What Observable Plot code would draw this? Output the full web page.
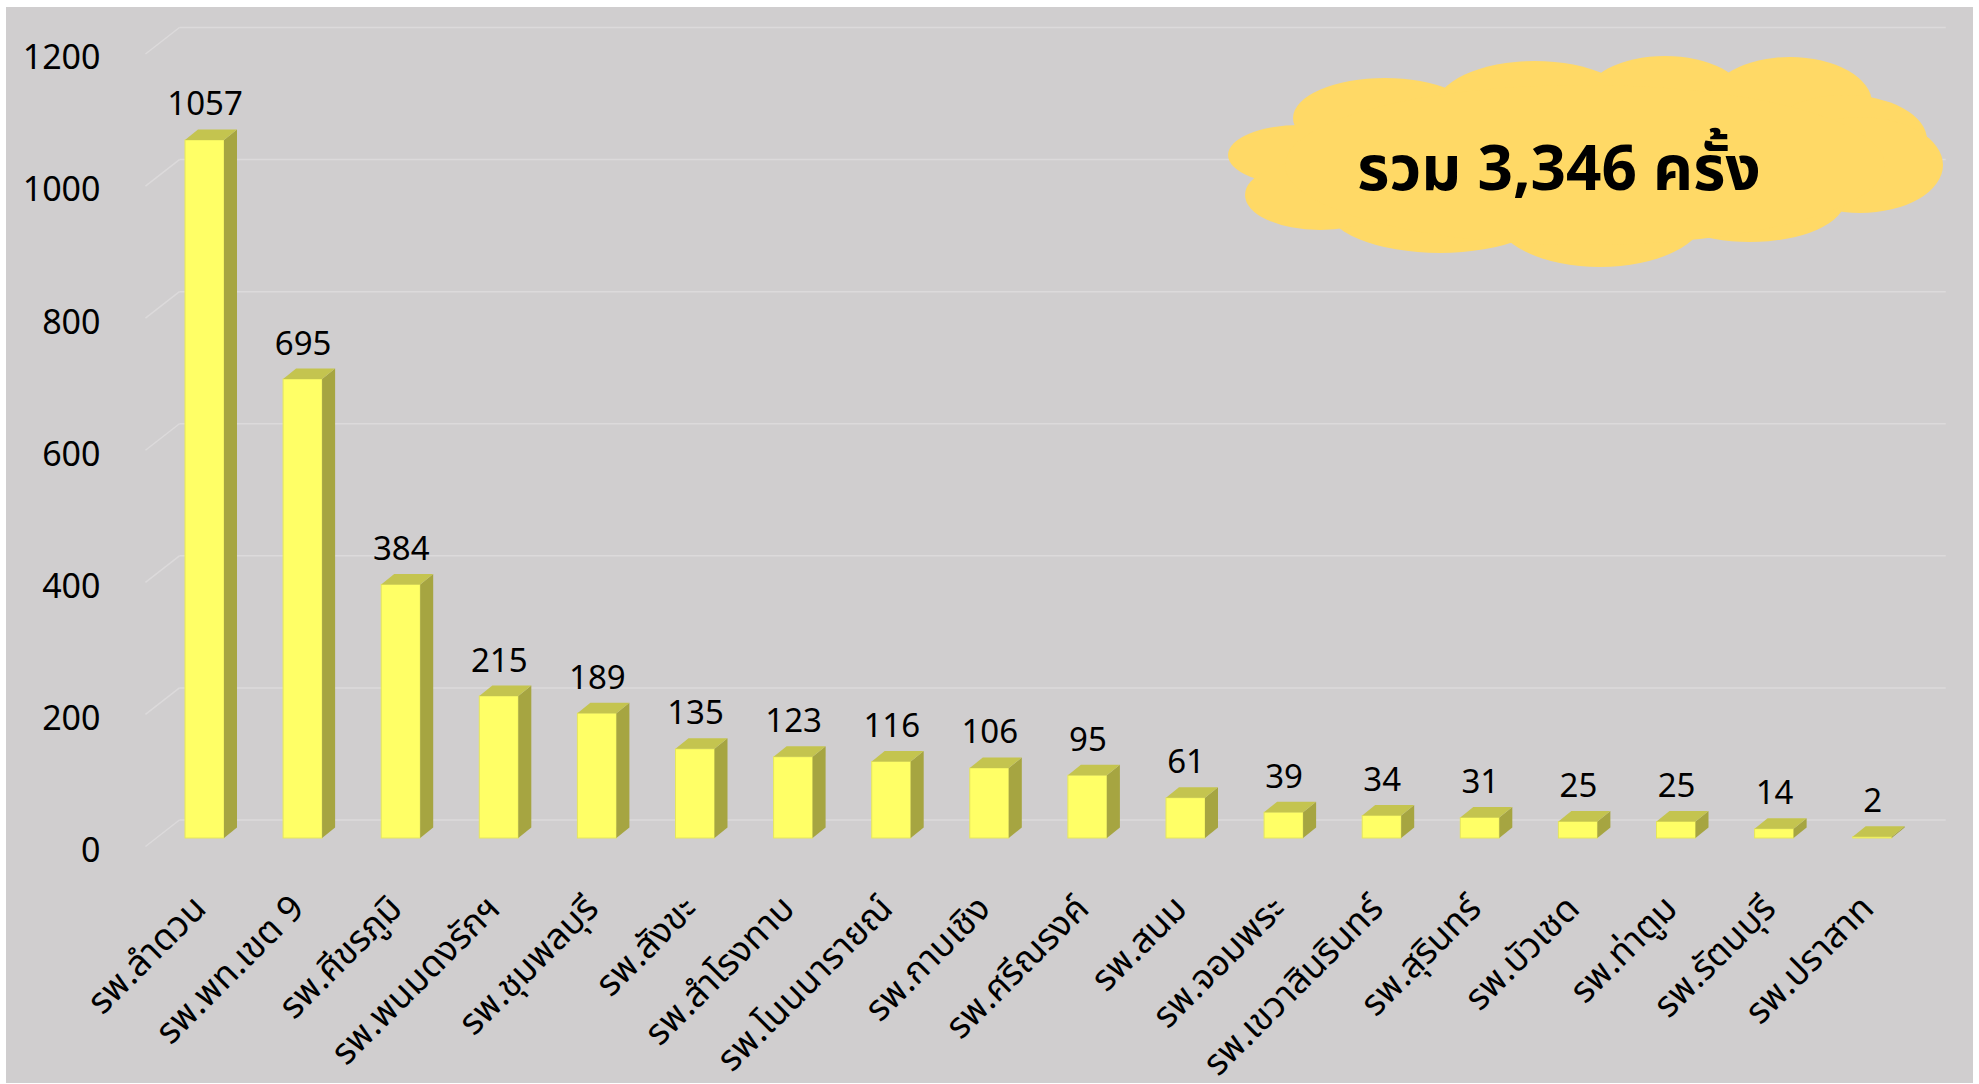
<!DOCTYPE html>
<html><head><meta charset="utf-8">
<script src="https://cdn.jsdelivr.net/npm/d3@7"></script>
<script src="https://cdn.jsdelivr.net/npm/@observablehq/plot@0.6"></script>
<style>
html,body{margin:0;padding:0;background:#fff;}
#wrap{position:relative;width:1979px;height:1084px;overflow:hidden;}
#bg{position:absolute;left:6px;top:7px;width:1967px;height:1076px;background:#D0CECF;}
#chart{position:absolute;left:0;top:0;}
#cloud{position:absolute;left:0;top:0;}
</style></head><body>
<div id="wrap"><div id="bg"></div><div id="chart"></div><svg id="cloud" width="1979" height="1084"></svg></div>
<script>
const hospitals = ["รพ.ลำดวน","รพ.พท.เขต 9","รพ.ศีขรภูมิ","รพ.พนมดงรักฯ","รพ.ชุมพลบุรี","รพ.สังขะ","รพ.สำโรงทาบ","รพ.โนนนารายณ์","รพ.กาบเชิง","รพ.ศรีณรงค์","รพ.สนม","รพ.จอมพระ","รพ.เขวาสินรินทร์","รพ.สุรินทร์","รพ.บัวเชด","รพ.ท่าตูม","รพ.รัตนบุรี","รพ.ปราสาท"];
const counts = [1057,695,384,215,189,135,123,116,106,95,61,39,34,31,25,25,14,2];
const yTicks = [0,200,400,600,800,1000,1200];
const yMax = 1200;
const totalLabel = "รวม " + d3.format(",")(d3.sum(counts)) + " ครั้ง";

const FONT = "'Noto Sans','Noto Sans Thai','Tahoma',sans-serif";
const W = 1979, H = 1084;
const mL = 155.45, mR = 57.75, mT = 45.5, mB = 246;
const stepPx = (W - mL - mR) / hospitals.length;
const pyPerUnit = (H - mT - mB) / yMax;
const ux = px => px / stepPx;
const uy = px => px / pyPerUnit;

const halfW = ux(19.5), depthX = ux(13), depthY = uy(10.5);
const gridLeftFront = -0.5 - ux(10.5);
const gridLeftBack = gridLeftFront + ux(34);
const gridRight = hospitals.length - 0.5 + ux(24);
const gridBackDy = uy(18.5), gridFrontDy = -uy(8);

const data = hospitals.map((name, i) => ({i, name, v: counts[i]}));
const sideData = data.flatMap(d => [
  {i: d.i, x: d.i + halfW, y1: 0, y2: d.v},
  {i: d.i, x: d.i + halfW + depthX, y1: depthY, y2: d.v + depthY}
]);
const topData = data.flatMap(d => [
  {i: d.i, x: d.i - halfW, y1: d.v, y2: d.v},
  {i: d.i, x: d.i - halfW + depthX, y1: d.v, y2: d.v + depthY},
  {i: d.i, x: d.i + halfW, y1: d.v, y2: d.v + depthY},
  {i: d.i, x: d.i + halfW + depthX, y1: d.v + depthY, y2: d.v + depthY}
]);

const chart = Plot.plot({
  width: W, height: H,
  marginLeft: mL, marginRight: mR, marginTop: mT, marginBottom: mB,
  x: {type: "linear", domain: [-0.5, hospitals.length - 0.5], axis: null},
  y: {domain: [0, yMax], axis: null},
  style: {background: "transparent", fontFamily: FONT, color: "#000", overflow: "visible"},
  marks: [
    Plot.link(yTicks, {x1: () => gridLeftBack, x2: () => gridRight, y1: d => d + gridBackDy, y2: d => d + gridBackDy, stroke: "#DCDADB", strokeWidth: 1.5}),
    Plot.link(yTicks, {x1: () => gridLeftFront, x2: () => gridLeftBack, y1: d => d + gridFrontDy, y2: d => d + gridBackDy, stroke: "#DCDADB", strokeWidth: 1.5}),
    Plot.rect(data, {x1: d => d.i - halfW, x2: d => d.i + halfW, y1: () => 0, y2: "v", fill: "#FFFF66", stroke: "#E6E65C", strokeWidth: 1}),
    Plot.areaY(sideData, {x: "x", y1: "y1", y2: "y2", z: "i", fill: "#A6A541"}),
    Plot.areaY(topData, {x: "x", y1: "y1", y2: "y2", z: "i", fill: "#C4C44F"}),
    Plot.text(data, {x: "i", y: "v", text: d => String(d.v), dy: -25, lineAnchor: "bottom", fontSize: 33}),
    Plot.text(data, {x: "i", y: () => 0, text: "name", rotate: -45, textAnchor: "end", lineAnchor: "bottom", dx: 3, dy: 72, fontSize: 36}),
    Plot.text(yTicks, {x: () => -0.5, y: d => d, text: d => String(d), textAnchor: "end", dx: -55.45, dy: 12.5, fontSize: 34})
  ]
});
document.getElementById("chart").appendChild(chart);

// decorative cloud callout
const cloud = d3.select("#cloud");
const lobes = [
  [1300,155,72,30],[1385,118,92,40],[1535,108,100,47],[1665,98,80,42],[1790,103,82,46],
  [1845,140,82,45],[1860,165,83,48],[1750,200,95,42],[1600,215,105,52],[1440,205,115,48],
  [1320,195,75,35],[1585,165,300,80]
];
cloud.selectAll("ellipse").data(lobes).join("ellipse")
  .attr("cx", d => d[0]).attr("cy", d => d[1]).attr("rx", d => d[2]).attr("ry", d => d[3])
  .attr("fill", "#FFD966");
cloud.append("text").attr("x", 1559).attr("y", 190).attr("text-anchor", "middle")
  .attr("font-family", FONT).attr("font-weight", "bold").attr("font-size", 62).attr("fill", "#000")
  .text(totalLabel);
</script>
</body></html>
